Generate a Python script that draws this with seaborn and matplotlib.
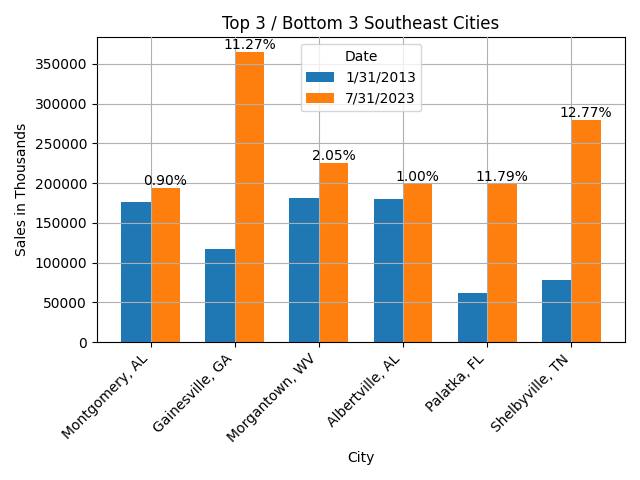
import pandas as pd
import matplotlib
matplotlib.use("Agg")
import matplotlib.pyplot as plt
import seaborn as sns

# 도시별 판매 데이터
cities = ["Montgomery, AL", "Gainesville, GA", "Morgantown, WV",
          "Albertville, AL", "Palatka, FL", "Shelbyville, TN"]
dates = ["1/31/2013", "7/31/2023"]
sales_2013 = [176250, 117500, 181250, 180000, 61250, 77500]
sales_2023 = [193750, 365000, 225000, 198750, 198750, 278750]
growth_labels = ["0.90%", "11.27%", "2.05%", "1.00%", "11.79%", "12.77%"]

df = pd.DataFrame({
    "City": cities * 2,
    "Date": [dates[0]] * len(cities) + [dates[1]] * len(cities),
    "Sales": sales_2013 + sales_2023,
})

fig, ax = plt.subplots(figsize=(6.4, 4.8))
sns.barplot(data=df, x="City", y="Sales", hue="Date", palette=["#1f77b4", "#ff7f0e"],
            width=0.7, gap=0, errorbar=None, saturation=1, ax=ax)

# 최신 막대 위에 성장률 표시
for bar, label in zip(ax.containers[1], growth_labels):
    ax.text(bar.get_x() + bar.get_width() / 2, bar.get_height(), label,
            ha="center", va="bottom", fontsize=10)

ax.set_title("Top 3 / Bottom 3 Southeast Cities")
ax.set_xlabel("City")
ax.set_ylabel("Sales in Thousands")
ax.set_xlim(-0.6375, len(cities) - 1 + 0.6375)
ax.grid(True)
ax.set_axisbelow(False)
plt.setp(ax.get_xticklabels(), rotation=45, ha="right")
ax.legend(title="Date", loc="upper center")
plt.tight_layout()
plt.savefig("out.png", dpi=100)
